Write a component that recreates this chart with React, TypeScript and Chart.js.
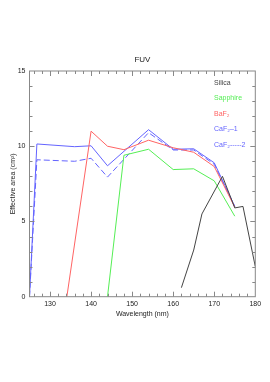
import React, { useEffect, useRef } from 'react';
import { Chart, registerables } from 'chart.js';

Chart.register(...registerables);

// ---- data ----
const silicaX = [162, 165, 167, 172, 175, 177, 180];
const silicaY = [0.6, 3.1, 5.5, 8.0, 5.9, 6.0, 2.0];

const sapphireX = [144, 148, 154, 160, 165, 170, 175];
const sapphireY = [0, 9.4, 9.8, 8.45, 8.5, 7.7, 5.35];

const baf2X = [134.1, 140, 144, 148, 154, 160, 165, 170, 175];
const baf2Y = [0, 11.0, 10.0, 9.77, 10.4, 9.9, 9.6, 8.65, 5.95];

const caf1X = [125, 126.8, 136, 140, 144, 154, 160, 165, 170, 175];
const caf1Y = [0, 10.15, 9.97, 10.03, 8.7, 11.1, 9.8, 9.83, 8.9, 6.0];

const caf2X = [125, 126.8, 136, 140, 144, 154, 160, 165, 170, 175];
const caf2Y = [0, 9.1, 9.0, 9.2, 7.95, 10.9, 9.75, 9.75, 8.8, 6.0];

const xMajorTicks = [130, 140, 150, 160, 170, 180];
const yMajorTicks = [0, 5, 10, 15];

const legendLabels = ['Silica', 'Sapphire', 'BaF₂', 'CaF₂–1', 'CaF₂-----2'];
const seriesColors = ['#444444', '#55ee55', '#ff6464', '#6464ff', '#6464ff'];

const FONT = 'Liberation Sans, Arial, Helvetica, sans-serif';
const TEXT = '#222222';

function pts(xs: number[], ys: number[]) {
  return xs.map((x, i) => ({ x, y: ys[i] }));
}

const framePlugin = {
  id: 'frameTicks',
  afterDatasetsDraw(chart: any) {
    const { ctx, chartArea, scales } = chart;
    const { left, right, top, bottom } = chartArea;
    const xs = scales.x;
    const ys = scales.y;
    ctx.save();
    ctx.strokeStyle = '#888888';
    ctx.lineWidth = 1;
    ctx.strokeRect(left, top, right - left, bottom - top);
    ctx.beginPath();
    for (let v = 126; v < 180; v += 2) {
      const p = Math.round(xs.getPixelForValue(v)) + 0.5;
      const len = v % 10 === 0 ? 5 : 3;
      ctx.moveTo(p, bottom);
      ctx.lineTo(p, bottom - len);
      ctx.moveTo(p, top);
      ctx.lineTo(p, top + len);
    }
    for (let v = 1; v < 15; v += 1) {
      const p = Math.round(ys.getPixelForValue(v)) + 0.5;
      const len = v % 5 === 0 ? 5 : 3;
      ctx.moveTo(left, p);
      ctx.lineTo(left + len, p);
      ctx.moveTo(right, p);
      ctx.lineTo(right - len, p);
    }
    ctx.stroke();

    // legend text
    ctx.font = `7px ${FONT}`;
    ctx.textAlign = 'left';
    ctx.textBaseline = 'middle';
    const lx = 214;
    const ly = [83, 98.5, 114, 129.5, 145];
    legendLabels.forEach((t, i) => {
      ctx.fillStyle = seriesColors[i];
      ctx.fillText(t, lx, ly[i]);
    });
    ctx.restore();
  },
};

export default function App() {
  const ref = useRef<HTMLCanvasElement | null>(null);

  useEffect(() => {
    if (!ref.current) return;
    const mk = (label: string, xs: number[], ys: number[], color: string, dash: number[] = []) => ({
      label,
      data: pts(xs, ys),
      borderColor: color,
      backgroundColor: color,
      borderWidth: 1,
      borderDash: dash,
      pointRadius: 0,
      fill: false,
      tension: 0,
    });
    const chart = new Chart(ref.current, {
      type: 'line',
      data: {
        datasets: [
          mk('Silica', silicaX, silicaY, seriesColors[0]),
          mk('Sapphire', sapphireX, sapphireY, seriesColors[1]),
          mk('BaF2', baf2X, baf2Y, seriesColors[2]),
          mk('CaF2-1', caf1X, caf1Y, seriesColors[3]),
          mk('CaF2-2', caf2X, caf2Y, seriesColors[4], [6, 3]),
        ],
      },
      options: {
        responsive: false,
        animation: false,
        layout: { padding: { left: 0, right: 14.7, top: 0, bottom: 0 } },
        plugins: {
          legend: { display: false },
          tooltip: { enabled: false },
          title: {
            display: true,
            fullSize: false,
            text: 'FUV',
            color: TEXT,
            font: { family: FONT, size: 8, weight: 'normal' },
            padding: { top: 55.2, bottom: 6.2 },
          },
        },
        scales: {
          x: {
            type: 'linear',
            min: 125,
            max: 180,
            afterBuildTicks: (s: any) => {
              s.ticks = xMajorTicks.map((v) => ({ value: v }));
            },
            afterFit: (s: any) => {
              s.height = 85.3;
            },
            grid: { display: false, drawTicks: false },
            border: { display: false },
            ticks: {
              color: TEXT,
              font: { family: FONT, size: 7 },
              padding: 3,
              maxRotation: 0,
              autoSkip: false,
            },
            title: {
              display: true,
              text: 'Wavelength (nm)',
              color: TEXT,
              font: { family: FONT, size: 7 },
              padding: { top: 0, bottom: 63.8 },
            },
          },
          y: {
            type: 'linear',
            min: 0,
            max: 15,
            afterBuildTicks: (s: any) => {
              s.ticks = yMajorTicks.map((v) => ({ value: v }));
            },
            afterFit: (s: any) => {
              s.width = 29.5;
            },
            grid: { display: false, drawTicks: false },
            border: { display: false },
            ticks: {
              color: TEXT,
              font: { family: FONT, size: 7 },
              padding: 4,
            },
            title: {
              display: true,
              text: 'Effective area (cm²)',
              color: TEXT,
              font: { family: FONT, size: 7 },
              padding: { top: 8.8, bottom: 0 },
            },
          },
        },
      } as any,
      plugins: [framePlugin],
    });
    return () => chart.destroy();
  }, []);

  return (
    <div style={{ position: 'fixed', left: 0, top: 0, width: 270, height: 382, background: '#fff' }}>
      <canvas ref={ref} width={270} height={382} style={{ display: 'block', width: 270, height: 382 }} />
    </div>
  );
}
